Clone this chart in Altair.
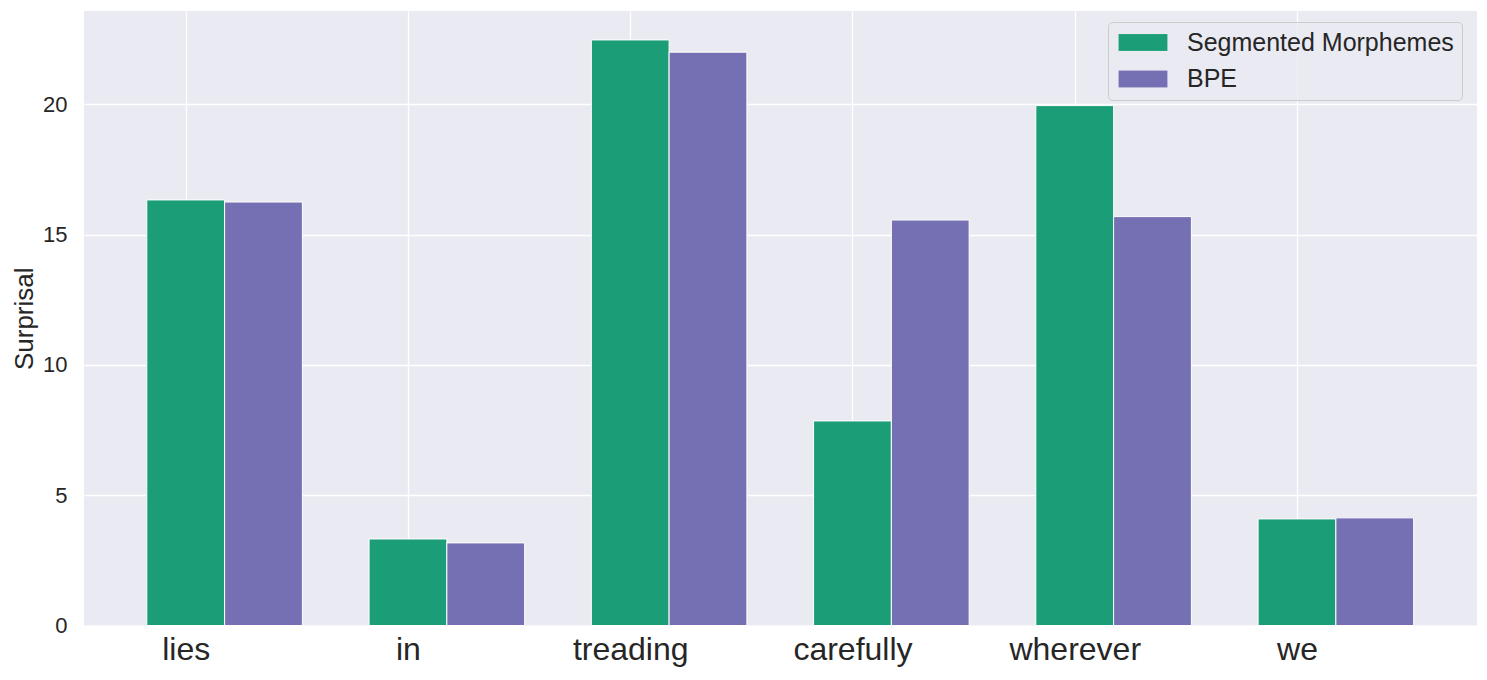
import altair as alt
import pandas as pd

words = ["lies", "in", "treading", "carefully", "wherever", "we"]
seg_morph = [16.33, 3.32, 22.47, 7.85, 19.95, 4.09]
bpe = [16.25, 3.17, 22.00, 15.56, 15.69, 4.13]
series_names = ["Segmented Morphemes", "BPE"]
series_colors = ["#1b9e77", "#7570b3"]
bar_width = 0.35

rows = []
for i, w in enumerate(words):
    rows.append({"word": w, "idx": i, "series": series_names[0], "off0": -bar_width / 2, "value": seg_morph[i]})
    rows.append({"word": w, "idx": i, "series": series_names[1], "off0": bar_width / 2, "value": bpe[i]})
df = pd.DataFrame(rows)

label_expr = "[" + ",".join(f"'{w}'" for w in words) + "][datum.value]"

FONT = "Liberation Sans"
TXT = "#262626"

# legend swatch: 49 x 17 px rectangle drawn with a 17px symbol size
sym_r = 8.5
sym_x0 = -1 - 1.5 / sym_r
sym_x1 = sym_x0 + 49 / sym_r
swatch = f"M{sym_x0:.3f},-1L{sym_x1:.3f},-1L{sym_x1:.3f},1L{sym_x0:.3f},1Z"

chart = (
    alt.Chart(df)
    .transform_calculate(x0="datum.idx + datum.off0", x1=f"datum.idx + datum.off0 + {bar_width}")
    .mark_bar(stroke="white", strokeWidth=1)
    .encode(
        x=alt.X(
            "x0:Q",
            scale=alt.Scale(domain=[-0.4576, 5.81], nice=False, zero=False),
            axis=alt.Axis(
                values=list(range(len(words))),
                labelExpr=label_expr,
                title=None,
                labelFontSize=32,
                labelPadding=9,
                ticks=False,
                domain=False,
            ),
        ),
        x2="x1:Q",
        y=alt.Y(
            "value:Q",
            scale=alt.Scale(domain=[0, 23.58], nice=False),
            axis=alt.Axis(
                values=[0, 5, 10, 15, 20],
                title="Surprisal",
                labelFontSize=22,
                titleFontSize=26,
                titleFontWeight="normal",
                labelPadding=17,
                titlePadding=5,
                ticks=False,
                domain=False,
            ),
        ),
        y2=alt.datum(0),
        color=alt.Color(
            "series:N",
            scale=alt.Scale(domain=series_names, range=series_colors),
            legend=alt.Legend(
                title=None,
                orient="none",
                legendX=1024,
                legendY=11,
                labelFontSize=25,
                labelColor=TXT,
                labelLimit=0,
                symbolType=swatch,
                symbolSize=289,
                symbolStrokeColor="white",
                symbolStrokeWidth=0.15,
                symbolOpacity=1,
                labelOffset=46,
                rowPadding=10.5,
                padding=8,
                fillColor="rgba(234,234,242,0.8)",
                strokeColor="#cccccc",
                cornerRadius=4,
            ),
        ),
    )
    .properties(
        width=1393,
        height=614.5,
        background="white",
        autosize=alt.AutoSizeParams(type="none"),
        padding={"left": 76, "top": 3, "right": 2, "bottom": 46},
    )
    .configure_view(fill="#EAEAF2", stroke=None)
    .configure_axis(
        gridColor="white",
        gridWidth=1.3,
        gridOpacity=1,
        labelColor=TXT,
        titleColor=TXT,
        labelFont=FONT,
        titleFont=FONT,
    )
    .configure_legend(labelFont=FONT)
)

chart.save("out.html", embed_options={"renderer": "svg", "actions": False})
